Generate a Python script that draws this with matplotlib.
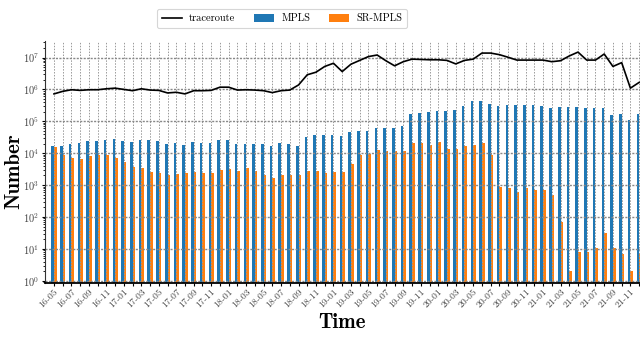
import matplotlib
matplotlib.use("Agg")
import matplotlib.pyplot as plt
import numpy as np
from matplotlib.ticker import LogLocator, LogFormatterMathtext, NullFormatter, FixedLocator

plt.rcParams['mathtext.fontset'] = 'cm'
plt.rcParams['font.family'] = ['cmr10', 'DejaVu Serif']
plt.rcParams['axes.formatter.use_mathtext'] = True

# months 16-05 .. 21-12
months = []
y, m = 16, 5
for _ in range(68):
    months.append(f"{y:02d}-{m:02d}")
    m += 1
    if m > 12:
        m = 1
        y += 1

mpls = [17000, 17000, 19500, 21400, 24500, 24500, 26300, 28200, 24500, 22900,
        26300, 26300, 24500, 19500, 21400, 18200, 22900, 21400, 21400, 26300,
        26300, 19500, 19500, 19500, 19500, 17000, 21400, 19500, 17000, 32400,
        38000, 38000, 38000, 35500, 46800, 50100, 50100, 63100, 63100, 63100,
        72400, 174000, 186000, 200000, 214000, 214000, 229000, 309000, 437000, 437000,
        355000, 309000, 331000, 331000, 331000, 331000, 309000, 269000, 282000, 282000,
        282000, 263000, 263000, 263000, 158000, 174000, 112000, 174000]

sr_mpls = [15800, 8900, 7200, 6600, 8300, 8900, 8900, 7200, 5400, 3700,
           3500, 2600, 2450, 2100, 2240, 2450, 2600, 2450, 2450, 3000,
           3240, 2800, 3500, 2800, 2100, 1700, 2100, 2100, 2100, 2800,
           2800, 2450, 2600, 2600, 4700, 8900, 9500, 12900, 12000, 12000,
           12000, 21400, 21400, 18200, 22900, 13800, 13800, 17000, 18200, 21400,
           8900, 890, 830, 620, 830, 710, 710, 500, 71, 2,
           8, 8, 11, 32, 11, 7, 2, 7]

traceroute = [724000, 871000, 977000, 933000, 977000, 977000, 1047000, 1096000, 1000000, 912000,
              1047000, 955000, 933000, 776000, 813000, 724000, 912000, 912000, 933000, 1175000,
              1175000, 955000, 977000, 955000, 912000, 794000, 912000, 955000, 1380000, 2880000,
              3470000, 5250000, 6610000, 3630000, 6170000, 8130000, 10700000, 12000000, 7940000, 5500000,
              7410000, 8910000, 8710000, 8510000, 8510000, 8130000, 6310000, 8130000, 8910000, 13800000,
              13800000, 12300000, 10200000, 8320000, 8320000, 8320000, 8320000, 7410000, 7940000, 11200000,
              14800000, 8320000, 8320000, 12900000, 5250000, 6920000, 1096000, 1660000]

x = np.arange(len(months))
w = 0.3

fig = plt.figure(figsize=(6.4, 3.37), dpi=100)
ax = fig.add_axes([45/640, 54/337, 595/640, 242/337])

ax.bar(x - w/2, mpls, width=w, color='#1f77b4', label='MPLS', bottom=0.01, zorder=1)
ax.bar(x + w/2, sr_mpls, width=w, color='#ff7f0e', label='SR-MPLS', bottom=0.01, zorder=1)
ax.plot(x, traceroute, color='black', lw=1.2, label='traceroute', zorder=3)

ax.set_yscale('log')
ax.set_ylim(0.85, 3.3e7)
ax.set_xlim(-1.03, 67.1)

ax.yaxis.set_major_locator(LogLocator(base=10, numticks=20))
ax.yaxis.set_major_formatter(LogFormatterMathtext())
ax.yaxis.set_minor_locator(LogLocator(base=10, subs=np.arange(2, 10), numticks=20))
ax.yaxis.set_minor_formatter(NullFormatter())

ax.xaxis.set_major_locator(FixedLocator(x[::2]))
ax.xaxis.set_minor_locator(FixedLocator(x[1::2]))
ax.set_xticklabels(months[::2], rotation=45, ha='right', rotation_mode='anchor',
                   fontsize=7, color='#444444')
ax.tick_params(axis='y', labelsize=7.5, labelcolor='#444444', length=2.5, width=0.8, pad=1.5)
ax.tick_params(axis='y', which='minor', length=1.5, width=0.6)
ax.tick_params(axis='x', which='both', length=2.5, width=0.8, pad=1)

ax.grid(True, which='major', axis='y', linestyle=(0, (1.5, 1)), color='#888888', linewidth=1.0)
ax.grid(True, which='both', axis='x', linestyle=(0, (1.5, 1.5)), color='#999999', linewidth=0.7)

for s in ['top', 'right']:
    ax.spines[s].set_visible(False)
ax.spines['left'].set_color('#333333')
ax.spines['bottom'].set_linewidth(1.3)

ax.set_xlabel('Time', fontfamily='cmb10', fontsize=15, labelpad=2)
ax.set_ylabel('Number', fontfamily='cmb10', fontsize=15)
ax.yaxis.set_label_coords(-0.036, 0.46)

leg = fig.legend(loc='upper center', bbox_to_anchor=(282/640, 1 - 4/337), ncol=3,
                 fontsize=7.5, frameon=True, fancybox=True, handlelength=1.9,
                 handletextpad=0.7, columnspacing=1.8, borderpad=0.45, handleheight=0.75)
leg.get_frame().set_edgecolor('#cccccc')
leg.get_frame().set_linewidth(0.8)

fig.savefig('out.png', dpi=100)
